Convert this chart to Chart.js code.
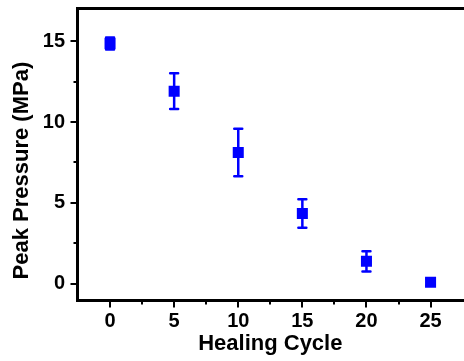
<!DOCTYPE html>
<html>
<head>
  <title>Peak Pressure vs Healing Cycle</title>
  <script src="https://cdn.jsdelivr.net/npm/chart.js"></script>
  <style>
    body { margin: 0; background: #fff; }
    #wrap { width: 464px; height: 361px; }
  </style>
</head>
<body>
  <div id="wrap"><canvas id="myChart"></canvas></div>

  <script>
    // Measured peak pressure after each healing cycle, with error bars
    const cycles = [0, 5, 10, 15, 20, 25];
    const peakPressure = [14.86, 11.91, 8.12, 4.35, 1.39, 0.1];
    const pressureErr = [0.37, 1.1, 1.47, 0.88, 0.63, 0.2];

    // Axis ticks (labelled majors, short unlabelled minors)
    const xMajorTicks = [0, 5, 10, 15, 20, 25];
    const xMinorTicks = [2.5, 7.5, 12.5, 17.5, 22.5];
    const yMajorTicks = [0, 5, 10, 15];
    const yMinorTicks = [2.5, 7.5, 12.5];

    const xTitle = 'Healing Cycle';
    const yTitle = 'Peak Pressure (MPa)';

    const FONT = '"Liberation Sans", Arial, sans-serif';
    const BLUE = '#0000ff';

    // Error bars under the markers, then the axis frame, ticks and titles on top
    const framePlugin = {
      id: 'frame',
      beforeDatasetsDraw(chart) {
        const ctx = chart.ctx;
        const xs = chart.scales.x, ys = chart.scales.y;
        ctx.save();
        ctx.strokeStyle = BLUE;
        ctx.lineWidth = 2.5;
        ctx.lineCap = 'round';
        cycles.forEach((c, i) => {
          const px = xs.getPixelForValue(c);
          const top = ys.getPixelForValue(peakPressure[i] + pressureErr[i]);
          const bot = ys.getPixelForValue(peakPressure[i] - pressureErr[i]);
          ctx.beginPath();
          ctx.moveTo(px, top); ctx.lineTo(px, bot);
          ctx.moveTo(px - 4, top); ctx.lineTo(px + 4, top);
          ctx.moveTo(px - 4, bot); ctx.lineTo(px + 4, bot);
          ctx.stroke();
        });
        ctx.restore();
      },
      afterDraw(chart) {
        const ctx = chart.ctx;
        const xs = chart.scales.x, ys = chart.scales.y;
        const { left, top, bottom } = chart.chartArea;
        const lx = left - 0.5, ty = top + 0.5, by = bottom + 0.5;
        ctx.save();

        // frame: top, left and bottom sides
        ctx.strokeStyle = '#000';
        ctx.lineWidth = 3;
        ctx.lineJoin = 'miter';
        ctx.beginPath();
        ctx.moveTo(chart.width + 2, ty);
        ctx.lineTo(lx, ty);
        ctx.lineTo(lx, by);
        ctx.lineTo(chart.width + 2, by);
        ctx.stroke();

        // outward ticks
        ctx.lineWidth = 2;
        ctx.beginPath();
        xMajorTicks.forEach(v => {
          const px = Math.round(xs.getPixelForValue(v));
          ctx.moveTo(px, by); ctx.lineTo(px, by + 7);
        });
        xMinorTicks.forEach(v => {
          const px = Math.round(xs.getPixelForValue(v));
          ctx.moveTo(px, by); ctx.lineTo(px, by + 4);
        });
        yMajorTicks.forEach(v => {
          const py = Math.round(ys.getPixelForValue(v));
          ctx.moveTo(lx, py); ctx.lineTo(lx - 7, py);
        });
        yMinorTicks.forEach(v => {
          const py = Math.round(ys.getPixelForValue(v));
          ctx.moveTo(lx, py); ctx.lineTo(lx - 4, py);
        });
        ctx.stroke();

        // axis titles
        ctx.fillStyle = '#000';
        ctx.font = 'bold 22px ' + FONT;
        ctx.textAlign = 'center';
        ctx.textBaseline = 'alphabetic';
        ctx.fillText(xTitle, xs.getPixelForValue(12.5), 350);
        ctx.translate(28, ys.getPixelForValue(7));
        ctx.rotate(-Math.PI / 2);
        ctx.fillText(yTitle, 0, 0);
        ctx.restore();
      }
    };

    const tickFont = { family: FONT, size: 20, weight: 'bold' };

    const ctx = document.getElementById('myChart').getContext('2d');
    const myChart = new Chart(ctx, {
      type: 'scatter',
      data: {
        datasets: [{
          data: cycles.map((c, i) => ({ x: c, y: peakPressure[i] })),
          pointStyle: 'rect',
          pointRadius: 7.8,
          pointHoverRadius: 7.8,
          backgroundColor: BLUE,
          borderWidth: 0,
          showLine: false
        }]
      },
      options: {
        responsive: true,
        maintainAspectRatio: false,
        devicePixelRatio: 1,
        animation: false,
        layout: { padding: { top: 8, right: 0, bottom: 0, left: 0 } },
        plugins: {
          legend: { display: false },
          tooltip: { enabled: false }
        },
        scales: {
          x: {
            type: 'linear',
            min: -2.5,
            max: 27,
            afterBuildTicks: s => { s.ticks = xMajorTicks.map(v => ({ value: v })); },
            afterFit: s => { s.height = 61; s.paddingLeft = 0; s.paddingRight = 0; },
            grid: { display: false, drawTicks: false },
            border: { display: false },
            ticks: { padding: 9, color: '#000', font: tickFont, autoSkip: false, maxRotation: 0 }
          },
          y: {
            type: 'linear',
            min: -1,
            max: 17.05,
            afterBuildTicks: s => { s.ticks = yMajorTicks.map(v => ({ value: v })); },
            afterFit: s => { s.width = 78; s.paddingTop = 0; s.paddingBottom = 0; },
            grid: { display: false, drawTicks: false },
            border: { display: false },
            ticks: { padding: 13, color: '#000', font: tickFont, autoSkip: false }
          }
        }
      },
      plugins: [framePlugin]
    });
  </script>
</body>
</html>
